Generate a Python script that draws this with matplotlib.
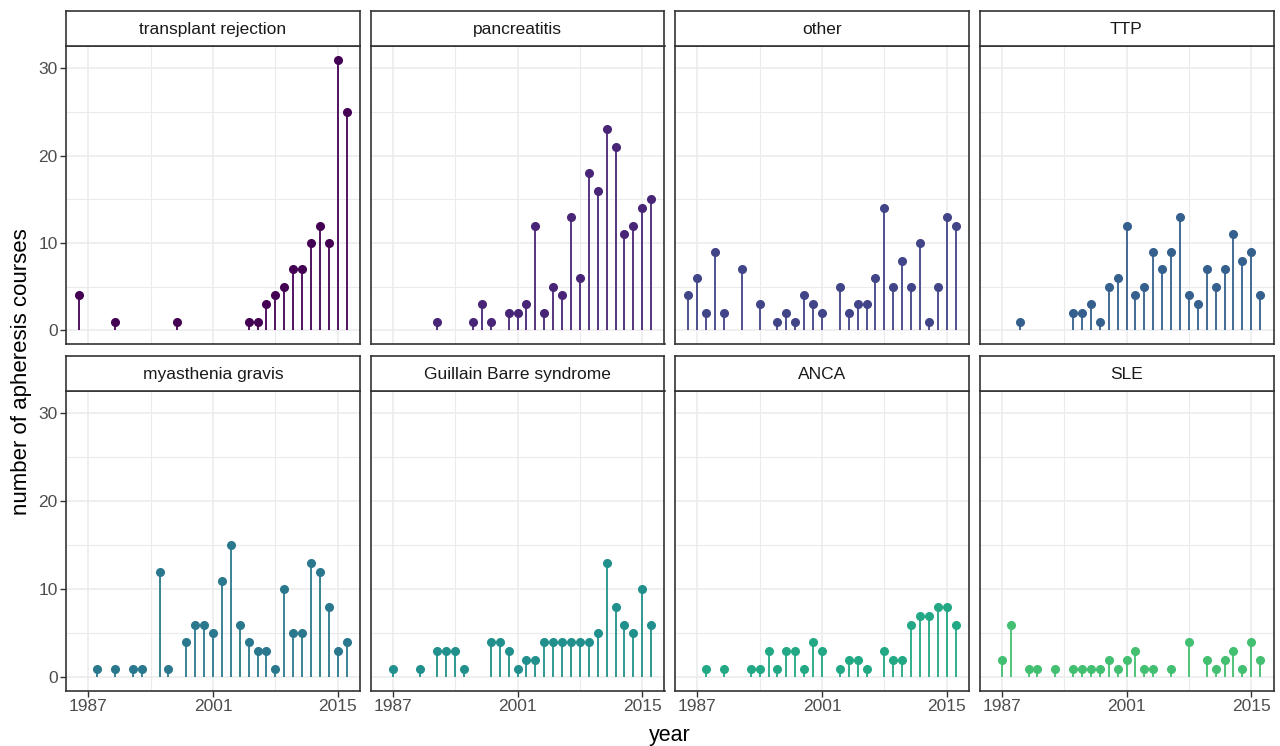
import matplotlib
matplotlib.use("Agg")
import matplotlib.pyplot as plt

# names of the panels in the order they are drawn
diseases = ["transplant rejection", "pancreatitis", "other", "TTP",
            "myasthenia gravis", "Guillain Barre syndrome", "ANCA", "SLE"]

# years and number of apheresis courses per disease
transplant_years = [1986, 1990, 1997, 2005, 2006, 2007, 2008, 2009, 2010, 2011, 2012, 2013, 2014, 2015, 2016]
transplant_counts = [4, 1, 1, 1, 1, 3, 4, 5, 7, 7, 10, 12, 10, 31, 25]

pancreatitis_years = [1992, 1996, 1997, 1998, 2000, 2001, 2002, 2003, 2004, 2005, 2006,
                      2007, 2008, 2009, 2010, 2011, 2012, 2013, 2014, 2015, 2016]
pancreatitis_counts = [1, 1, 3, 1, 2, 2, 3, 12, 2, 5, 4, 13, 6, 18, 16, 23, 21, 11, 12, 14, 15]

other_years = [1986, 1987, 1988, 1989, 1990, 1992, 1994, 1996, 1997, 1998, 1999, 2000, 2001, 2003,
               2004, 2005, 2006, 2007, 2008, 2009, 2010, 2011, 2012, 2013, 2014, 2015, 2016]
other_counts = [4, 6, 2, 9, 2, 7, 3, 1, 2, 1, 4, 3, 2, 5, 2, 3, 3, 6, 14, 5, 8, 5, 10, 1, 5, 13, 12]

ttp_years = [1989, 1995, 1996, 1997, 1998, 1999, 2000, 2001, 2002, 2003, 2004, 2005,
             2006, 2007, 2008, 2009, 2010, 2011, 2012, 2013, 2014, 2015, 2016]
ttp_counts = [1, 2, 2, 3, 1, 5, 6, 12, 4, 5, 9, 7, 9, 13, 4, 3, 7, 5, 7, 11, 8, 9, 4]

mg_years = [1988, 1990, 1992, 1993, 1995, 1996, 1998, 1999, 2000, 2001, 2002, 2003, 2004,
            2005, 2006, 2007, 2008, 2009, 2010, 2011, 2012, 2013, 2014, 2015, 2016]
mg_counts = [1, 1, 1, 1, 12, 1, 4, 6, 6, 5, 11, 15, 6, 4, 3, 3, 1, 10, 5, 5, 13, 12, 8, 3, 4]

gbs_years = [1987, 1990, 1992, 1993, 1994, 1995, 1998, 1999, 2000, 2001, 2002, 2003, 2004,
             2005, 2006, 2007, 2008, 2009, 2010, 2011, 2012, 2013, 2014, 2015, 2016]
gbs_counts = [1, 1, 3, 3, 3, 1, 4, 4, 3, 1, 2, 2, 4, 4, 4, 4, 4, 4, 5, 13, 8, 6, 5, 10, 6]

anca_years = [1988, 1990, 1993, 1994, 1995, 1996, 1997, 1998, 1999, 2000, 2001, 2003,
              2004, 2005, 2006, 2008, 2009, 2010, 2011, 2012, 2013, 2014, 2015, 2016]
anca_counts = [1, 1, 1, 1, 3, 1, 3, 3, 1, 4, 3, 1, 2, 2, 1, 3, 2, 2, 6, 7, 7, 8, 8, 6]

sle_years = [1987, 1988, 1990, 1991, 1993, 1995, 1996, 1997, 1998, 1999, 2000, 2001,
             2002, 2003, 2004, 2006, 2008, 2010, 2011, 2012, 2013, 2014, 2015, 2016]
sle_counts = [2, 6, 1, 1, 1, 1, 1, 1, 1, 2, 1, 2, 3, 1, 1, 1, 4, 2, 1, 2, 3, 1, 4, 2]

all_years = [transplant_years, pancreatitis_years, other_years, ttp_years,
             mg_years, gbs_years, anca_years, sle_years]
all_counts = [transplant_counts, pancreatitis_counts, other_counts, ttp_counts,
              mg_counts, gbs_counts, anca_counts, sle_counts]

# viridis colours, one per panel
colors = ["#440154", "#482576", "#414487", "#35608D",
          "#2A788E", "#21908C", "#22A884", "#43BF71"]

x_ticks = [1987, 2001, 2015]
y_ticks = [0, 10, 20, 30]

plt.rcParams["font.family"] = ["Liberation Sans", "DejaVu Sans"]

W, H = 1280, 746
fig = plt.figure(figsize=(W / 100, H / 100), dpi=100)

# panel layout in pixels
col_left = [66, 370.5, 675, 979.5]
panel_w = 294
row_top = [46, 391]
row_bottom = [344, 691]
strip_h = 35

for i, name in enumerate(diseases):
    r, c = divmod(i, 4)
    left = col_left[c] / W
    bottom = (H - row_bottom[r]) / H
    height = (row_bottom[r] - row_top[r]) / H
    ax = fig.add_axes([left, bottom, panel_w / W, height])

    # lollipops: stem from zero plus a dot at the value
    ax.vlines(all_years[i], 0, all_counts[i], color=colors[i], linewidth=1.3, zorder=3)
    ax.plot(all_years[i], all_counts[i], "o", color=colors[i], markersize=5.5, zorder=4)

    ax.set_xlim(1984.5, 2017.5)
    ax.set_ylim(-1.55, 32.55)
    ax.set_xticks(x_ticks)
    ax.set_xticks([1994, 2008], minor=True)
    ax.set_yticks(y_ticks)
    ax.set_yticks([5, 15, 25], minor=True)
    ax.grid(which="major", color="#EBEBEB", linewidth=1.1, zorder=0)
    ax.grid(which="minor", color="#EBEBEB", linewidth=0.8, zorder=0)
    ax.set_axisbelow(True)
    for s in ax.spines.values():
        s.set_color("#333333")
        s.set_linewidth(1.2)
    ax.tick_params(which="minor", length=0)
    ax.tick_params(which="major", length=4, width=1.0, color="#333333",
                   labelsize=12.5, labelcolor="#4D4D4D", pad=2)
    if c != 0:
        ax.tick_params(axis="y", left=False, labelleft=False)
    if r == 0:
        ax.tick_params(axis="x", bottom=False, labelbottom=False)

    # strip with the panel title
    sax = fig.add_axes([left, (H - row_top[r]) / H, panel_w / W, strip_h / H])
    sax.set_xticks([])
    sax.set_yticks([])
    sax.set_facecolor("white")
    for s in sax.spines.values():
        s.set_color("#333333")
        s.set_linewidth(1.2)
    sax.text(0.5, 0.47, name, ha="center", va="center", fontsize=12.5,
             color="#1A1A1A", transform=sax.transAxes)

# shared axis titles
fig.text(670 / W, 1 - 735 / H, "year", ha="center", va="center", fontsize=15.5)
fig.text(22 / W, 1 - 372 / H, "number of apheresis courses", ha="center", va="center",
         rotation=90, fontsize=16)

fig.savefig("out.png", dpi=100, facecolor="white")
